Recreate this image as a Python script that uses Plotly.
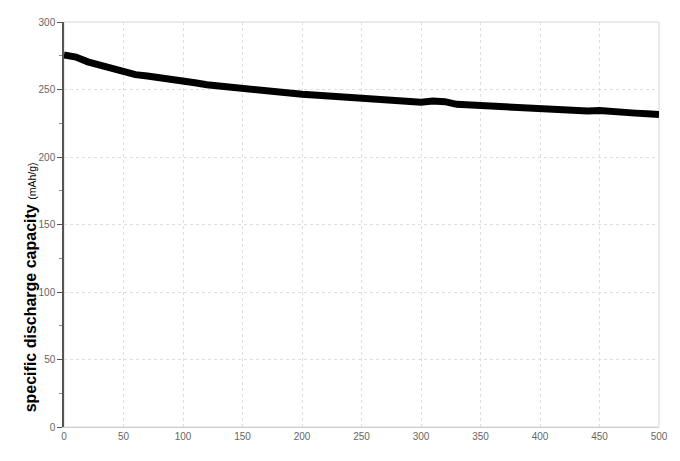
import plotly.graph_objects as go

# cycle number vs specific discharge capacity (mAh/g)
cycles = [0, 10, 20, 30, 40, 50, 60, 70, 80, 90,
          100, 110, 120, 130, 140, 150, 160, 170, 180, 190,
          200, 210, 220, 230, 240, 250, 260, 270, 280, 290,
          300, 310, 320, 330, 340, 350, 360, 370, 380, 390,
          400, 410, 420, 430, 440, 450, 460, 470, 480, 490, 500]
capacity = [275.5, 274.0, 270.5, 268.0, 265.5, 263.0, 261.0, 260.0, 259.0, 257.5,
            256.5, 255.0, 253.5, 252.5, 251.5, 251.5, 250.0, 249.0, 248.0, 247.0,
            246.5, 246.0, 245.5, 245.0, 244.0, 243.5, 243.0, 242.5, 242.0, 241.0,
            240.5, 241.5, 241.0, 239.0, 238.5, 238.0, 237.5, 237.0, 236.5, 236.0,
            235.5, 235.0, 234.5, 234.0, 234.0, 234.5, 233.5, 233.0, 232.5, 232.0, 231.5]

x_ticks = [0, 50, 100, 150, 200, 250, 300, 350, 400, 450, 500]
y_ticks = [0, 50, 100, 150, 200, 250, 300]

fig = go.Figure()
fig.add_trace(go.Scatter(
    x=cycles, y=capacity, mode="lines",
    line=dict(color="black", width=7),
    showlegend=False,
))

tick_font = dict(family="Liberation Sans, Arial", size=10, color="#666")

fig.update_xaxes(
    range=[0, 500], tickvals=x_ticks, tickfont=tick_font,
    showgrid=True, gridcolor="#dedede", griddash="3px,3px", gridwidth=1,
    showline=True, linecolor="#d0d0d0", linewidth=1,
    ticks="", zeroline=False,
)
fig.update_yaxes(
    range=[0, 300], tickvals=y_ticks, tickfont=tick_font,
    showgrid=True, gridcolor="#dedede", griddash="3px,3px", gridwidth=1,
    showline=True, linecolor="#555", linewidth=1.5,
    ticks="outside", ticklen=5, tickcolor="#555",
    minor=dict(tickvals=[25, 75, 125, 175, 225, 275], ticks="outside",
               ticklen=3, tickcolor="#888", showgrid=False),
    zeroline=False,
)

# light border on top/right
fig.add_shape(type="rect", xref="paper", yref="paper", x0=0, y0=0, x1=1, y1=1,
              line=dict(color="#d6d6d6", width=1), layer="below")

fig.add_annotation(
    xref="paper", yref="paper", x=-0.057, y=0.345,
    xanchor="center", yanchor="middle", textangle=-90, showarrow=False,
    text="<b>specific discharge capacity</b> <span style='font-size:10.5px'>(mAh/g)</span>",
    font=dict(family="Liberation Sans, Arial", size=16, color="black"),
)

fig.update_layout(
    width=680, height=461,
    margin=dict(l=64, r=19, t=22, b=34),
    plot_bgcolor="white", paper_bgcolor="white",
)

fig.write_html("out.html", config={"displayModeBar": False},
               post_script="document.body.style.margin='0';")
